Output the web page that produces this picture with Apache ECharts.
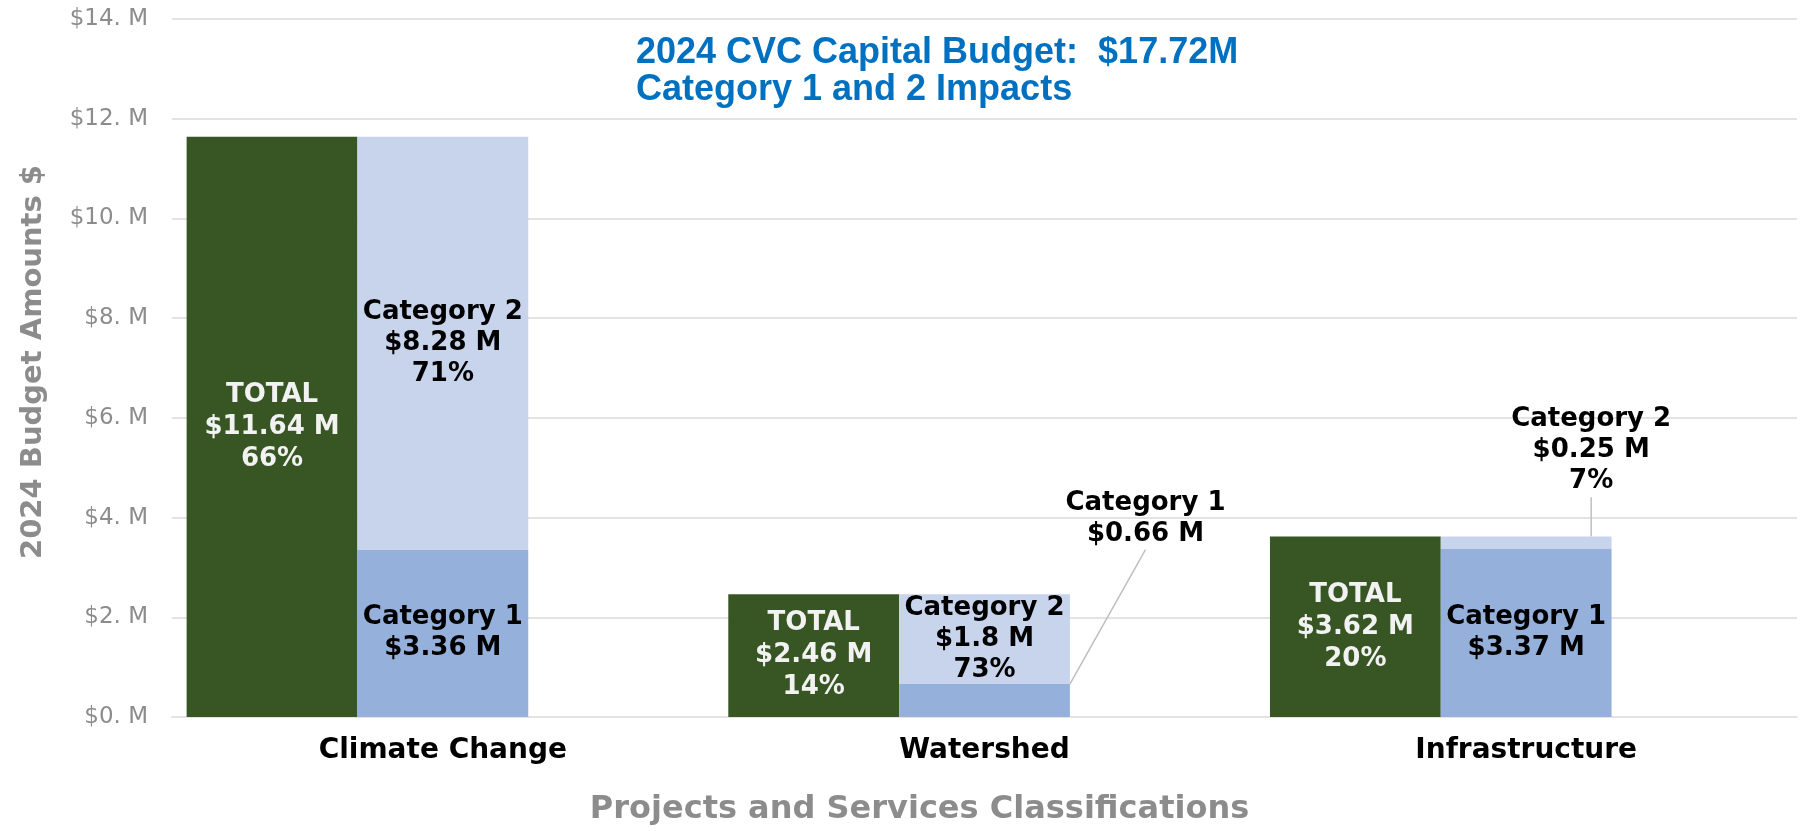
<!DOCTYPE html>
<html>
<head>
<meta charset="utf-8">
<script src="https://cdn.jsdelivr.net/npm/echarts@6/dist/echarts.min.js"></script>
<style>
  html, body { margin: 0; padding: 0; background: #fff; }
  #chart { width: 1801px; height: 831px; }
</style>
</head>
<body>
<div id="chart"></div>
<script>
// values ($ millions)
const categories = ['Climate Change', 'Watershed', 'Infrastructure'];
const totals = [11.64, 2.46, 3.62];
const category1 = [3.36, 0.66, 3.37];
const category2 = [8.28, 1.8, 0.25];
const totalPct = [66, 14, 20];
const category2Pct = [71, 73, 7];
const budgetTotal = 17.72;

const font = 'DejaVu Sans';
const labelStyle = {
  fontFamily: font,
  fontWeight: 'bold',
  fontSize: 26,
  lineHeight: 31,
  color: '#000'
};

const chart = echarts.init(document.getElementById('chart'));

chart.setOption({
  animation: false,
  title: {
    text: '2024 CVC Capital Budget:  $' + budgetTotal + 'M\nCategory 1 and 2 Impacts',
    left: 636,
    top: 35,
    padding: 0,
    textStyle: {
      fontFamily: 'Liberation Sans',
      fontWeight: 'bold',
      fontSize: 36,
      lineHeight: 37,
      color: '#0070C0'
    }
  },
  grid: {left: 172, right: 4, top: 19, bottom: 112},
  xAxis: {
    type: 'category',
    data: categories,
    name: 'Projects and Services Classifications',
    nameLocation: 'middle',
    nameGap: 77,
    nameTextStyle: {
      fontFamily: font,
      fontWeight: 'bold',
      fontSize: 32,
      color: '#8c8c8c',
      padding: [0, 130, 0, 0]
    },
    axisLine: {lineStyle: {color: '#e3e3e3', width: 2}},
    axisTick: {show: false},
    axisLabel: {
      margin: 20,
      fontFamily: font,
      fontWeight: 'bold',
      fontSize: 28,
      color: '#000'
    }
  },
  yAxis: {
    type: 'value',
    min: 0,
    max: 14,
    interval: 2,
    name: '2024 Budget Amounts $',
    nameLocation: 'middle',
    nameGap: 124,
    nameTextStyle: {
      fontFamily: font,
      fontWeight: 'bold',
      fontSize: 29,
      color: '#8c8c8c',
      padding: [0, 0, 0, 12]
    },
    axisLine: {show: false},
    axisTick: {show: false},
    splitLine: {lineStyle: {color: '#e3e3e3', width: 2}},
    axisLabel: {
      margin: 24,
      fontFamily: font,
      fontSize: 23,
      color: '#8c8c8c',
      formatter: v => '$' + v + '. M'
    }
  },
  series: [
    {
      name: 'TOTAL',
      type: 'bar',
      data: totals,
      barGap: '0%',
      barCategoryGap: '5.4%',
      itemStyle: {color: '#375623'},
      label: {
        show: true,
        position: 'inside',
        ...labelStyle,
        lineHeight: 32,
        color: '#f2f2f2',
        formatter: p => 'TOTAL\n$' + p.value + ' M\n' + totalPct[p.dataIndex] + '%'
      }
    },
    {
      name: 'Category 1',
      type: 'bar',
      stack: 'impact',
      data: category1,
      itemStyle: {color: '#95B1DB'},
      label: {
        show: true,
        position: 'inside',
        ...labelStyle,
        formatter: p => 'Category 1\n$' + p.value + ' M'
      },
      labelLine: {show: true, lineStyle: {color: '#bfbfbf', width: 1.5}},
      labelLayout: p => p.dataIndex === 1 ? {dx: 161, dy: -182} : {}
    },
    {
      name: 'Category 2',
      type: 'bar',
      stack: 'impact',
      data: category2,
      itemStyle: {color: '#C8D3EC'},
      label: {
        show: true,
        position: 'inside',
        ...labelStyle,
        formatter: p => 'Category 2\n$' + p.value + ' M\n' + category2Pct[p.dataIndex] + '%'
      },
      labelLine: {show: true, lineStyle: {color: '#bfbfbf', width: 1.5}},
      labelLayout: p => p.dataIndex === 2 ? {dx: 65, dy: -92} : {}
    },
    {
      // empty slot so each category label sits under the stacked bar
      name: 'spacer',
      type: 'bar',
      data: ['-', '-', '-']
    }
  ]
});
</script>
</body>
</html>
